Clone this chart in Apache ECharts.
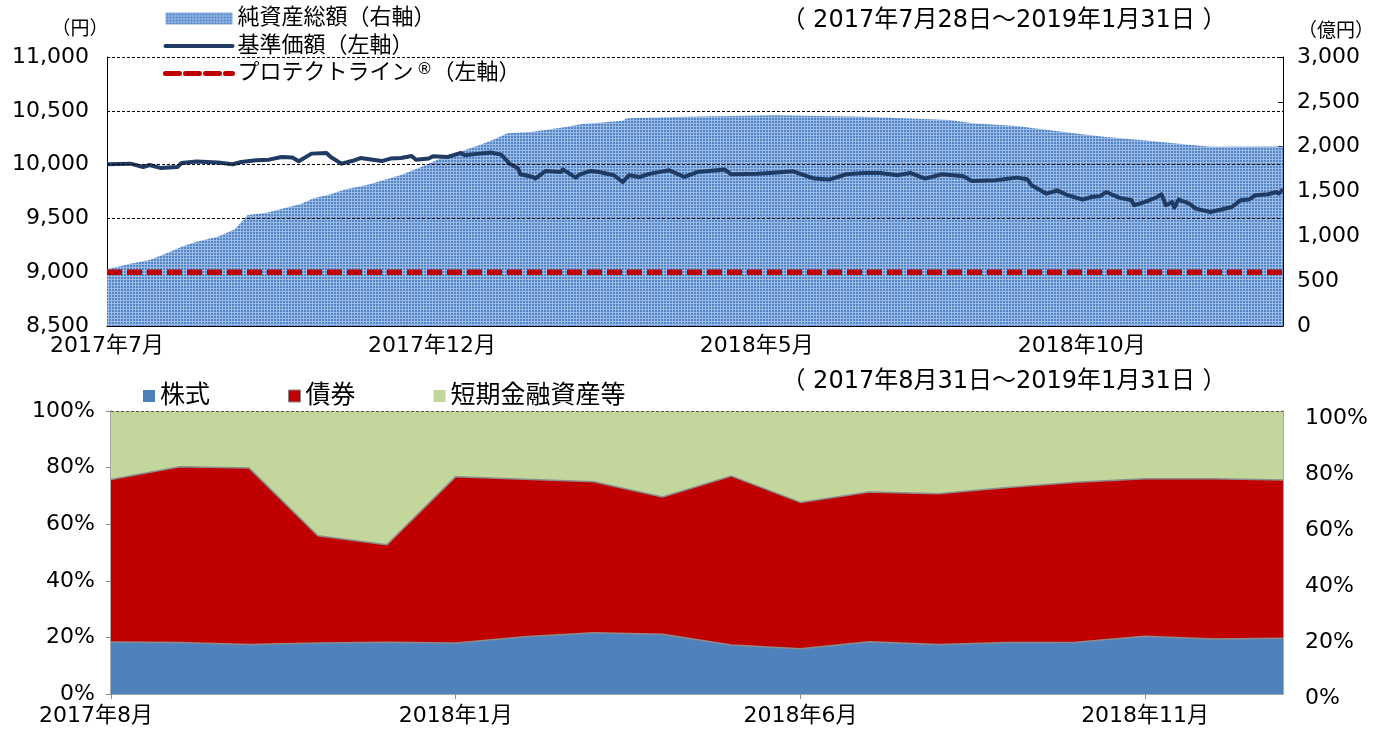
<!DOCTYPE html>
<html><head><meta charset="utf-8">
<script src="https://cdn.jsdelivr.net/npm/echarts@6/dist/echarts.min.js"></script>
<style>html,body{margin:0;padding:0;background:#fff}#c{width:1387px;height:733px}</style>
</head><body><div id="c"></div>
<script>
// ---------- DATA ----------
const startDate = '2017-07-28';
const endDate = '2019-01-31';

const navDates = ['2017-07-28','2017-08-08','2017-08-14','2017-08-17','2017-08-22','2017-08-30','2017-09-01','2017-09-08','2017-09-18','2017-09-25','2017-09-29','2017-10-06','2017-10-12','2017-10-18','2017-10-23','2017-10-26','2017-11-01','2017-11-08','2017-11-10','2017-11-15','2017-11-20','2017-11-24','2017-12-04','2017-12-08','2017-12-13','2017-12-18','2017-12-20','2017-12-26','2017-12-28','2018-01-04','2018-01-09','2018-01-10','2018-01-12','2018-01-19','2018-01-24','2018-01-29','2018-02-02','2018-02-06','2018-02-07','2018-02-13','2018-02-14','2018-02-19','2018-02-26','2018-02-27','2018-03-05','2018-03-07','2018-03-12','2018-03-16','2018-03-23','2018-03-27','2018-03-30','2018-04-04','2018-04-09','2018-04-18','2018-04-25','2018-05-01','2018-05-14','2018-05-17','2018-05-29','2018-06-06','2018-06-15','2018-06-25','2018-07-02','2018-07-10','2018-07-18','2018-07-26','2018-08-03','2018-08-09','2018-08-16','2018-08-24','2018-09-03','2018-09-07','2018-09-18','2018-09-28','2018-10-03','2018-10-05','2018-10-12','2018-10-17','2018-10-22','2018-10-29','2018-11-02','2018-11-06','2018-11-09','2018-11-15','2018-11-21','2018-11-22','2018-11-27','2018-12-03','2018-12-05','2018-12-07','2018-12-10','2018-12-11','2018-12-13','2018-12-18','2018-12-21','2018-12-28','2019-01-07','2019-01-11','2019-01-15','2019-01-18','2019-01-24','2019-01-28','2019-01-29','2019-01-31'];
const navValues = [10003,10009,9978,9996,9969,9978,10015,10028,10019,10003,10024,10040,10046,10071,10065,10031,10102,10108,10071,10009,10033,10061,10033,10056,10061,10080,10046,10056,10077,10071,10102,10108,10086,10102,10112,10093,10009,9963,9910,9885,9870,9941,9931,9956,9879,9910,9941,9931,9901,9838,9901,9885,9916,9947,9885,9931,9954,9910,9916,9925,9938,9870,9861,9910,9922,9922,9901,9922,9870,9910,9891,9848,9854,9879,9863,9808,9730,9761,9715,9675,9699,9705,9745,9693,9668,9622,9652,9699,9724,9622,9652,9600,9675,9638,9591,9560,9606,9668,9675,9715,9724,9745,9730,9770];

const assetDates = ['2017-07-28','2017-08-09','2017-08-17','2017-08-25','2017-09-01','2017-09-08','2017-09-18','2017-09-26','2017-10-02','2017-10-11','2017-10-19','2017-10-27','2017-11-02','2017-11-10','2017-11-17','2017-11-27','2017-12-05','2017-12-13','2017-12-21','2017-12-28','2018-01-05','2018-01-12','2018-01-19','2018-01-25','2018-02-01','2018-02-13','2018-02-21','2018-03-01','2018-03-08','2018-03-16','2018-03-27','2018-03-29','2018-04-26','2018-06-07','2018-07-18','2018-08-28','2018-09-07','2018-09-28','2018-10-09','2018-10-25','2018-11-08','2018-11-29','2018-12-19','2018-12-28','2019-01-31'];
const assetValues = [632,699,736,810,884,940,996,1078,1238,1263,1312,1360,1424,1468,1524,1572,1628,1684,1758,1832,1914,1963,2018,2074,2149,2167,2193,2223,2253,2268,2290,2316,2335,2350,2335,2297,2260,2230,2197,2149,2111,2066,2018,2000,2003];

const protectDates = ['2017-07-28','2019-01-31'];
const protectValues = [9000, 9000];

const leftTicks = [8500, 11000, 500];
const rightTicks = [0, 3000, 500];
const navGridValues = [11000, 10500, 10000, 9500];

const allocDates = ['2017-08-31','2017-09-29','2017-10-31','2017-11-30','2017-12-29','2018-01-31','2018-02-28','2018-03-30','2018-04-27','2018-05-31','2018-06-29','2018-07-31','2018-08-31','2018-09-28','2018-10-31','2018-11-30','2018-12-28','2019-01-31'];
const stockPct = [18.4,18.2,17.5,18.0,18.3,18.0,20.2,21.6,21.1,17.3,16.0,18.5,17.5,18.2,18.3,20.4,19.4,19.7];
const bondPct  = [57.4,62.1,62.4,37.9,34.4,58.8,55.7,53.4,48.5,59.7,51.7,52.9,53.3,54.8,56.5,55.7,56.7,55.9];
const cashPct  = [24.2,19.7,20.1,44.1,47.3,23.2,24.1,25.0,30.4,23.0,32.3,28.6,29.2,27.0,25.2,23.9,23.9,24.4];

const names = {
  asset: '純資産総額（右軸）',
  nav: '基準価額（左軸）',
  protect: 'プロテクトライン®（左軸）',
  stock: '株式', bond: '債券', cash: '短期金融資産等'
};
const title1 = '（ 2017年7月28日～2019年1月31日 ）';
const title2 = '（ 2017年8月31日～2019年1月31日 ）';

// ---------- HELPERS ----------
const DAY = 86400000;
const ts = s => Date.parse(s + 'T00:00:00Z');
const t0 = ts(startDate);
const dayOf = s => (ts(s) - t0) / DAY;
const totalDays = dayOf(endDate);
const pairs = (ds, vs) => ds.map((d, i) => [dayOf(d), vs[i]]);
const ymLabel = d => d.getUTCFullYear() + '年' + (d.getUTCMonth() + 1) + '月';
const comma = v => String(v).replace(/\B(?=(\d{3})+(?!\d))/g, ',');

function makePattern() {
  const c = document.createElement('canvas');
  c.width = 3; c.height = 3;
  const g = c.getContext('2d');
  g.fillStyle = '#5285C8'; g.fillRect(0, 0, 3, 3);
  g.fillStyle = '#9CBCE6'; g.fillRect(0, 0, 3, 1); g.fillRect(0, 0, 1, 3);
  return c;
}
const pattern = { image: makePattern(), repeat: 'repeat' };

const FONT = "'DejaVu Sans', 'Noto Sans CJK JP', sans-serif";
const GRAY = '#8C8C8C';
const NAVY = '#1F3A63';
const RED = '#C00000';
const protectStyle = { color: RED, width: 5.5, type: [15, 5], cap: 'butt' };

const chart = echarts.init(document.getElementById('c'), null, { renderer: 'canvas' });
chart.setOption({
  backgroundColor: '#fff',
  textStyle: { fontFamily: FONT },
  animation: false,
  grid: [
    { left: 107, top: 57, width: 1176, height: 269 },
    { left: 111, top: 411, width: 1172, height: 283 },
    { left: 111, top: 418, width: 1172, height: 280 }
  ],
  legend: [
    {
      orient: 'vertical', left: 121, top: 1,
      padding: [6, 55, 5, 42], backgroundColor: '#fff',
      itemWidth: 67, itemHeight: 12, itemGap: 4.5,
      textStyle: { fontSize: 22, lineHeight: 23, color: '#000', fontFamily: FONT,
        rich: { sup: { fontSize: 16, verticalAlign: 'top', padding: [0, 0, 9, 3], fontFamily: FONT } } },
      formatter: n => n.replace('®', '{sup|®}'),
      data: [
        { name: names.asset, icon: 'rect', itemStyle: { color: pattern } },
        { name: names.nav, itemStyle: { opacity: 0 }, lineStyle: { color: NAVY, width: 4, cap: 'round' } },
        { name: names.protect, itemStyle: { opacity: 0 }, lineStyle: Object.assign({}, protectStyle, { type: [14, 6], cap: 'round', width: 5 }) }
      ]
    },
    {
      left: 143, top: 382, padding: 0,
      itemWidth: 12, itemHeight: 12, itemGap: 78, icon: 'rect',
      textStyle: { fontSize: 25, lineHeight: 28, color: '#000', fontFamily: FONT },
      data: [
        { name: names.stock },
        { name: names.bond, itemStyle: { borderColor: '#888', borderWidth: 1 } },
        { name: names.cash }
      ]
    }
  ],
  graphic: [
    { type: 'text', x: 80, y: 30, style: { text: '（円）', fontSize: 19, fontFamily: FONT, fill: '#000', textAlign: 'center', textVerticalAlign: 'middle' } },
    { type: 'text', x: 1336, y: 32, style: { text: '（億円）', fontSize: 19, fontFamily: FONT, fill: '#000', textAlign: 'center', textVerticalAlign: 'middle' } },
    { type: 'text', x: 1004, y: 21, style: { text: title1, fontSize: 24, fontFamily: FONT, fill: '#000', textAlign: 'center', textVerticalAlign: 'middle' } },
    { type: 'text', x: 1004, y: 382, style: { text: title2, fontSize: 24, fontFamily: FONT, fill: '#000', textAlign: 'center', textVerticalAlign: 'middle' } }
  ],
  xAxis: [
    {
      gridIndex: 0, type: 'value', min: 0, max: totalDays, interval: 152.5,
      axisLine: { lineStyle: { color: '#000', width: 1 } },
      axisTick: { inside: true, length: 6, lineStyle: { color: '#000' } },
      axisLabel: { fontSize: 22, color: '#000', margin: 9, showMaxLabel: false, fontFamily: FONT,
        formatter: v => ymLabel(new Date(t0 + v * DAY)) },
      splitLine: { show: false }
    },
    {
      gridIndex: 1, type: 'category', data: allocDates, boundaryGap: false,
      axisLine: { lineStyle: { color: GRAY, width: 1.5 } },
      axisTick: { interval: 4, length: 5, lineStyle: { color: GRAY } },
      axisLabel: { interval: 4, fontSize: 22, color: '#000', margin: 11, fontFamily: FONT,
        formatter: (v, i) => { const t = ymLabel(new Date(ts(v))); return i === 0 ? '{f|' + t + '}' : t; },
        rich: { f: { fontSize: 22, color: '#000', fontFamily: FONT, padding: [0, 30, 0, 0] } } },
      splitLine: { show: false }
    },
    { gridIndex: 2, type: 'category', data: allocDates, boundaryGap: false, show: false }
  ],
  yAxis: [
    {
      gridIndex: 0, type: 'value', min: leftTicks[0], max: leftTicks[1], interval: leftTicks[2],
      axisLine: { show: true, lineStyle: { color: '#000', width: 1 } },
      axisTick: { show: false },
      axisLabel: { fontSize: 22, color: '#000', margin: 18, formatter: comma, fontFamily: FONT },
      splitLine: { show: false }
    },
    {
      gridIndex: 0, type: 'value', position: 'right', min: rightTicks[0], max: rightTicks[1], interval: rightTicks[2],
      axisLine: { show: true, lineStyle: { color: '#000', width: 1 } },
      axisTick: { show: true, inside: true, length: 5, lineStyle: { color: '#000' } },
      axisLabel: { fontSize: 22, color: '#000', margin: 14, formatter: comma, fontFamily: FONT },
      splitLine: { show: false }
    },
    {
      gridIndex: 1, type: 'value', min: 0, max: 100, interval: 20,
      axisLine: { show: true, lineStyle: { color: GRAY, width: 1.5 } },
      axisTick: { show: true, length: 5, lineStyle: { color: GRAY } },
      axisLabel: { fontSize: 22, color: '#000', margin: 16, formatter: '{value}%', fontFamily: FONT },
      splitLine: { show: false }
    },
    {
      gridIndex: 1, type: 'value', position: 'right', min: 0, max: 100,
      axisLine: { show: true, lineStyle: { color: GRAY, width: 1.5 } },
      axisTick: { show: false }, axisLabel: { show: false }, splitLine: { show: false }
    },
    {
      gridIndex: 2, type: 'value', position: 'right', min: 0, max: 100, interval: 20,
      axisLine: { show: false }, axisTick: { show: false },
      axisLabel: { fontSize: 22, color: '#000', margin: 22, formatter: '{value}%', fontFamily: FONT },
      splitLine: { show: false }
    }
  ],
  series: [
    {
      name: names.asset, type: 'line', xAxisIndex: 0, yAxisIndex: 1, z: 1,
      data: pairs(assetDates, assetValues), symbol: 'none',
      itemStyle: { color: '#6A96D0' },
      lineStyle: { width: 0, opacity: 0 },
      areaStyle: { color: pattern, opacity: 1 }
    },
    {
      name: names.protect, type: 'line', xAxisIndex: 0, yAxisIndex: 0, z: 2,
      data: pairs(protectDates, protectValues), symbol: 'none',
      itemStyle: { color: RED },
      lineStyle: protectStyle,
      markLine: {
        silent: true, symbol: 'none', label: { show: false },
        lineStyle: { color: '#000', width: 1, type: [3, 2] },
        data: navGridValues.map(v => ({ yAxis: v }))
      }
    },
    {
      name: names.nav, type: 'line', xAxisIndex: 0, yAxisIndex: 0, z: 3,
      data: pairs(navDates, navValues), symbol: 'none',
      itemStyle: { color: NAVY },
      lineStyle: { color: NAVY, width: 4, join: 'round' }
    },
    {
      name: names.stock, type: 'line', xAxisIndex: 1, yAxisIndex: 2, stack: 'alloc',
      data: stockPct, symbol: 'none',
      itemStyle: { color: '#4F81BD' },
      lineStyle: { color: GRAY, width: 1.5 },
      areaStyle: { color: '#4F81BD', opacity: 1 }
    },
    {
      name: names.bond, type: 'line', xAxisIndex: 1, yAxisIndex: 2, stack: 'alloc',
      data: bondPct, symbol: 'none',
      itemStyle: { color: RED },
      lineStyle: { color: GRAY, width: 1.5 },
      areaStyle: { color: RED, opacity: 1 }
    },
    {
      name: names.cash, type: 'line', xAxisIndex: 1, yAxisIndex: 2, stack: 'alloc',
      data: cashPct, symbol: 'none',
      itemStyle: { color: '#C3D69B' },
      lineStyle: { width: 0, opacity: 0 },
      areaStyle: { color: '#C3D69B', opacity: 1 },
      markLine: {
        silent: true, symbol: 'none', label: { show: false },
        lineStyle: { color: '#555', width: 1, type: [3, 2] },
        data: [{ yAxis: 100 }]
      }
    }
  ]
});
</script>
</body></html>
